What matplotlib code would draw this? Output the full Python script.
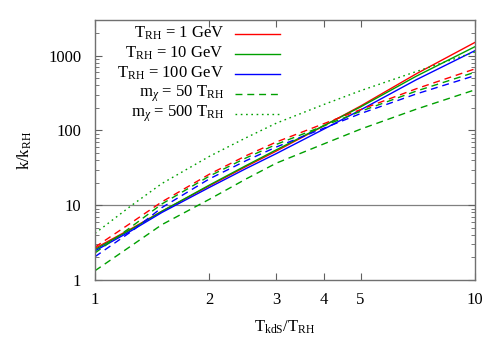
import matplotlib
matplotlib.use("Agg")
import matplotlib.pyplot as plt
from matplotlib.lines import Line2D
from matplotlib.ticker import FixedLocator, NullFormatter, LogLocator

plt.rcParams['font.family'] = ['Liberation Serif', 'DejaVu Serif']
plt.rcParams['mathtext.fontset'] = 'custom'
plt.rcParams['mathtext.rm'] = 'Liberation Serif'
plt.rcParams['mathtext.it'] = 'Liberation Serif:italic'

# data
x = [1, 1.25, 1.5, 2, 2.5, 3, 4, 5, 7, 10]
solid_1 = [2.65, 4.9, 8.3, 18.2, 33, 53, 115, 212, 570, 1504]
solid_10 = [2.55, 4.8, 8.3, 18.6, 34, 55, 116, 206, 530, 1318]
solid_100 = [2.45, 4.6, 8.0, 17.3, 31, 49, 104, 188, 475, 1166]
dash50_1 = [2.75, 5.9, 11.1, 26, 46, 70, 123, 190, 360, 665]
dash50_10 = [2.3, 5.2, 10.4, 24.5, 43, 65, 115, 180, 335, 600]
dash50_100 = [2.05, 4.5, 9.3, 22.5, 39.5, 60, 107, 168, 307, 541]
dash_low = [1.33, 2.9, 5.5, 12, 22.5, 36.5, 66, 104, 192, 349]
dot500 = [4.2, 10, 19.5, 45, 80, 125, 222, 340, 612, 1120]

legend_labels = [r'T$_{\rm RH}$ = 1 GeV', r'T$_{\rm RH}$ = 10 GeV', r'T$_{\rm RH}$ = 100 GeV',
                 r'm$_{\chi}$ = 50 T$_{\rm RH}$', r'm$_{\chi}$ = 500 T$_{\rm RH}$']

RED = '#ff0000'
GREEN = '#00a000'
BLUE = '#0000ff'
DASH = (0, (5, 3.5))
DOT = (0, (1.2, 2.6))
FS = 12

fig = plt.figure(figsize=(5, 3.5), dpi=100)
ax = fig.add_axes([0.19, 0.2, 0.76, 0.743])
ax.set_xscale('log')
ax.set_yscale('log')
ax.set_xlim(1, 10)
ax.set_ylim(1, 3000)

ax.axhline(10, color='#808080', lw=0.9, zorder=1)

lw = 1.0
ax.plot(x, solid_1, color=RED, lw=lw)
ax.plot(x, solid_10, color=GREEN, lw=lw)
ax.plot(x, solid_100, color=BLUE, lw=lw)
ax.plot(x, dash50_1, color=RED, lw=lw, linestyle=DASH)
ax.plot(x, dash50_10, color=GREEN, lw=lw, linestyle=DASH)
ax.plot(x, dash50_100, color=BLUE, lw=lw, linestyle=DASH)
ax.plot(x, dash_low, color=GREEN, lw=lw, linestyle=DASH)
ax.plot(x, dot500, color=GREEN, lw=lw, linestyle=DOT)

# ticks
ax.xaxis.set_major_locator(FixedLocator([1, 2, 3, 4, 5, 10]))
ax.xaxis.set_minor_locator(FixedLocator([]))
ax.set_xticklabels(['1', '2', '3', '4', '5', '10'])
ax.yaxis.set_major_locator(FixedLocator([1, 10, 100, 1000]))
ax.set_yticklabels(['1', '10', '100', '1000'])
ax.yaxis.set_minor_locator(LogLocator(base=10, subs=range(2, 10)))
ax.yaxis.set_minor_formatter(NullFormatter())
ax.tick_params(which='both', direction='in', top=True, right=True, color='#606060',
               labelsize=FS)
ax.tick_params(axis='y', pad=10)
ax.tick_params(axis='x', pad=9)
ax.tick_params(which='major', length=5, width=0.8)
ax.tick_params(which='minor', length=3, width=0.6)
for s in ax.spines.values():
    s.set_color('#707070')
    s.set_linewidth(1.0)

ax.set_xlabel(r'T$_{\rm kdS}$/T$_{\rm RH}$', fontsize=FS, labelpad=7)
ax.set_ylabel(r'k/k$_{\rm RH}$', fontsize=FS, labelpad=10)

# legend (gnuplot style: right-aligned text, sample to the right)
styles = [(RED, '-'), (GREEN, '-'), (BLUE, '-'), (GREEN, DASH), (GREEN, DOT)]
fw, fh = 500.0, 350.0
rows_y = [33.5, 53.5, 73.5, 94, 113.5]
for (c, ls), lab, yy in zip(styles, legend_labels, rows_y):
    yf = 1 - yy / fh
    fig.text(224 / fw, yf, lab, ha='right', va='center', fontsize=FS)
    fig.add_artist(Line2D([235 / fw, 280 / fw], [yf, yf], color=c, lw=lw, linestyle=ls,
                          transform=fig.transFigure))

fig.savefig('out.png', dpi=100)
